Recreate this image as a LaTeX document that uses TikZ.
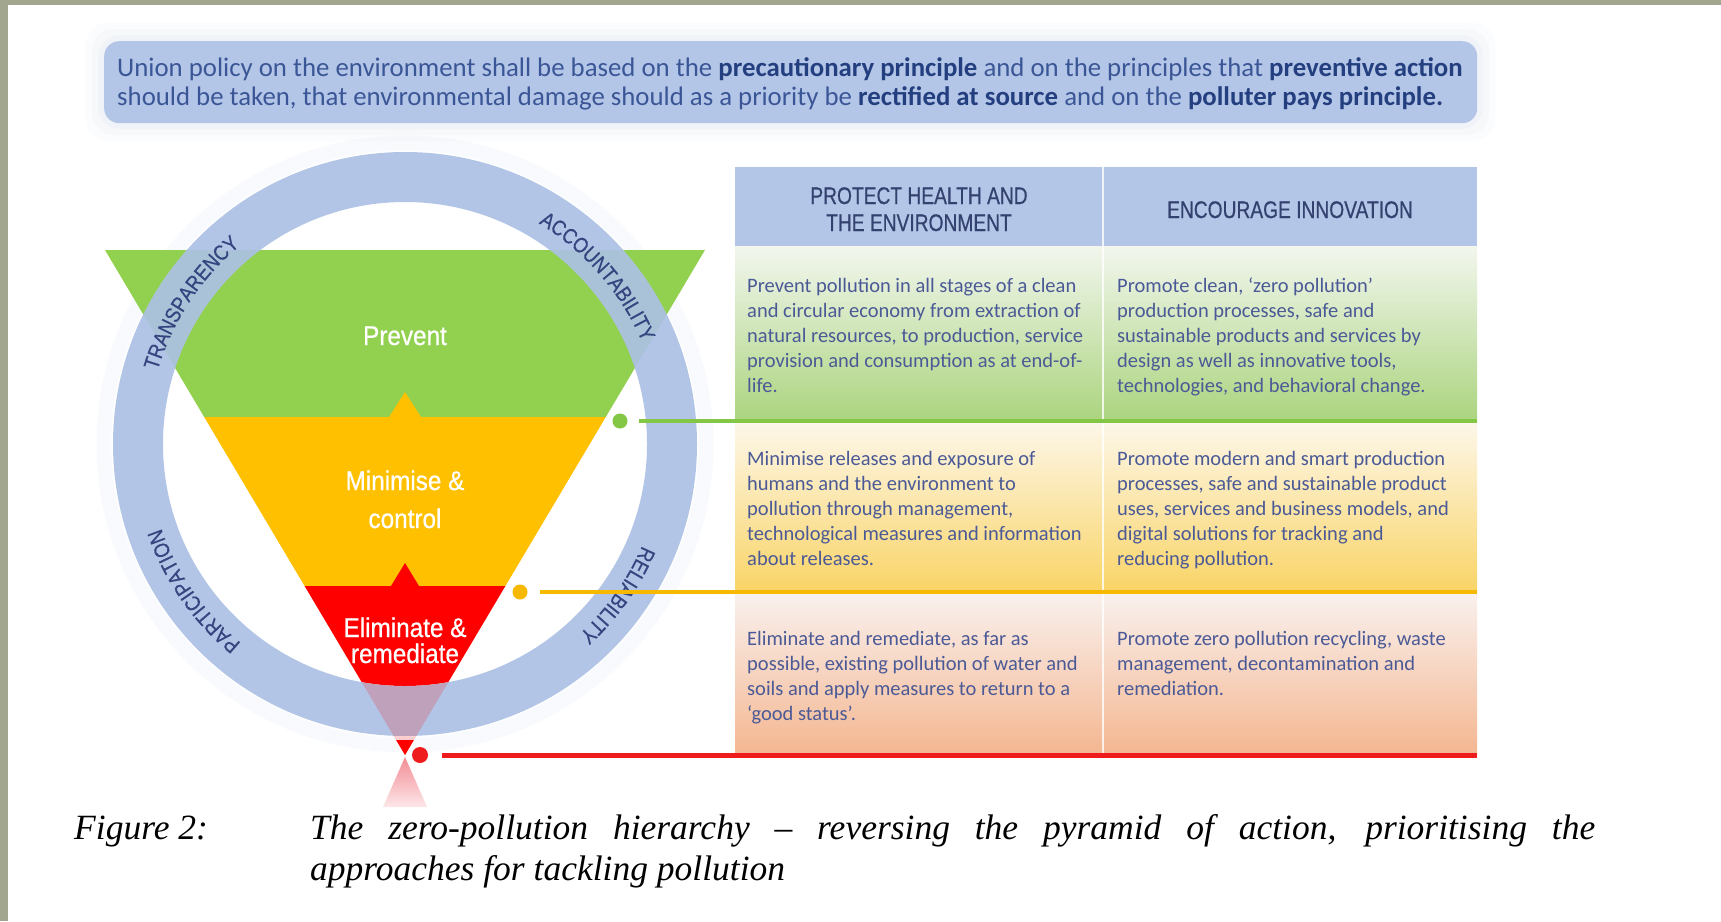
\documentclass[tikz,border=0pt]{standalone}
\usepackage{fontspec}
\setmainfont{Liberation Serif}
\newfontfamily\bodyfont{Carlito}
\newfontfamily\condfont[FakeStretch=0.8,FakeBold=0.5]{Liberation Sans}
\newfontfamily\trifont[FakeStretch=0.9,FakeBold=0.7]{Liberation Sans}
\newfontfamily\ringfont[FakeStretch=0.86,FakeBold=0.6]{Liberation Sans}
\usetikzlibrary{decorations.text}
\definecolor{stripcol}{HTML}{A3A68F}
\definecolor{bannerblue}{HTML}{B4C6E7}
\definecolor{glowcol}{HTML}{DCE2EE}
\definecolor{bannertext}{HTML}{3A5696}
\definecolor{bannerbold}{HTML}{243F80}
\definecolor{ringblue}{HTML}{ADC1E4}
\definecolor{ringtext}{HTML}{34457F}
\definecolor{tgreen}{HTML}{92D050}
\definecolor{tyellow}{HTML}{FFC000}
\definecolor{tred}{HTML}{FF0000}
\definecolor{hdrblue}{HTML}{B4C6E7}
\definecolor{hdrtext}{HTML}{33416F}
\definecolor{celltext}{HTML}{4B5A96}
\definecolor{lgreen}{HTML}{84C646}
\definecolor{lyellow}{HTML}{F7B900}
\definecolor{lred}{HTML}{EE1C1C}
\definecolor{rAtop}{HTML}{F2F6EE}
\definecolor{rAbot}{HTML}{ABD47E}
\definecolor{rBtop}{HTML}{FDF7EA}
\definecolor{rBbot}{HTML}{F9D466}
\definecolor{rCtop}{HTML}{F9F1EE}
\definecolor{rCbot}{HTML}{F4B690}
\definecolor{pinktop}{HTML}{F28C94}
\definecolor{pinkbot}{HTML}{FDE6E8}
\begin{document}
\begin{tikzpicture}[x=1pt,y=1pt,
  cell/.style={anchor=north west, inner sep=0pt, align=left, font=\bodyfont\fontsize{20.5}{25}\selectfont, text=celltext},
  hdr/.style={anchor=base, inner sep=0pt, font=\condfont\fontsize{24}{27}\selectfont, text=hdrtext},
  tri/.style={anchor=base, inner sep=0pt, font=\trifont\fontsize{27}{30}\selectfont, text=white},
  dot/.style={circle, inner sep=0pt, minimum size=15pt},
  rowbox/.style={anchor=north west, inner sep=0pt, minimum width=742pt},
  hdrbox/.style={anchor=north west, inner sep=0pt, fill=hdrblue, minimum height=79pt},
  capfont/.style={font=\itshape\fontsize{35.5}{41}\selectfont, text=black},
]
\useasboundingbox (0,0) rectangle (1721,-921);
\fill[white] (0,0) rectangle (1721,-921);
\fill[stripcol] (0,0) rectangle (8,-921);
\fill[stripcol] (0,0) rectangle (1721,-5);

% ---------- banner ----------
\foreach \d/\o in {18/0.10,12/0.14,6/0.20}
  \fill[glowcol, opacity=\o, rounded corners=22pt] (104-\d,-41+\d) rectangle (1477+\d,-123-\d);
\node[anchor=north west, inner sep=0pt, fill=bannerblue, rounded corners=15pt,
      minimum width=1373pt, minimum height=82pt] (banner) at (104,-41) {};
\node[anchor=north west, inner sep=0pt, align=left, font=\bodyfont\fontsize{26.8}{29.5}\selectfont, text=bannertext]
  (bannertxt) at (117,-56)
  {\rule{0pt}{20pt}Union policy on the environment shall be based on the \textbf{\color{bannerbold}precautionary principle} and on the principles that \textbf{\color{bannerbold}preventive action}\\
   should be taken, that environmental damage should as a priority be \textbf{\color{bannerbold}rectified at source} and on the \textbf{\color{bannerbold}polluter pays principle.}};

% ---------- geometry ----------
\coordinate (C) at (405,-444);
\coordinate (TL) at (105,-250);
\coordinate (TR) at (705,-250);
\coordinate (L1) at (204.2,-417);
\coordinate (R1) at (605.8,-417);
\coordinate (L2) at (304.6,-586);
\coordinate (R2) at (505.4,-586);
\coordinate (A) at (405,-755);

% ring halo
\foreach \i in {1,...,5}
  \draw[ringblue, opacity=0.07, line width=3pt] (C) circle[radius=292+3*\i];

% inverted pyramid
\fill[tgreen] (TL) -- (TR) -- (R1) -- (L1) -- cycle;
\fill[tyellow] (L1) -- (R1) -- (R2) -- (L2) -- cycle;
\begin{scope}
  \clip (C) circle[radius=242];
  \fill[tred] (L2) -- (R2) -- (A) -- cycle;
\end{scope}

% ring
\fill[ringblue, fill opacity=0.92, even odd rule] (C) circle[radius=292] (C) circle[radius=242];

% faded lower tip
\begin{scope}
  \clip (L2) -- (R2) -- (A) -- cycle;
  \fill[tred, fill opacity=0.18, even odd rule] (C) circle[radius=242] (290,-580) rectangle (520,-800);
\end{scope}
\fill[tred] (396.1,-740) -- (413.9,-740) -- (A) -- cycle;
\shade[top color=pinktop, bottom color=pinkbot] (405,-757) -- (427,-807) -- (383,-807) -- cycle;

% small arrows
\fill[tyellow] (389,-417) -- (421,-417) -- (405,-392) -- cycle;
\fill[tred] (391,-586) -- (419,-586) -- (405,-563) -- cycle;

% ring labels
\path[decorate, decoration={text along path, text align=center, text color=ringtext,
   text={|\ringfont\fontsize{21.5}{21.5}\selectfont|TRANSPARENCY}}]
   ([shift={(176.6:258)}]C) arc[start angle=176.6, end angle=116.6, radius=258];
\path[decorate, decoration={text along path, text align=center, text color=ringtext,
   text={|\ringfont\fontsize{21.5}{21.5}\selectfont|ACCOUNTABILITY}}]
   ([shift={(71:258)}]C) arc[start angle=71, end angle=11, radius=258];
\path[decorate, decoration={text along path, text align=center, text color=ringtext,
   text={|\ringfont\fontsize{21.5}{21.5}\selectfont|PARTICIPATION}}]
   ([shift={(244.8:258)}]C) arc[start angle=244.8, end angle=184.8, radius=258];
\path[decorate, decoration={text along path, text align=center, text color=ringtext,
   text={|\ringfont\fontsize{21.5}{21.5}\selectfont|RELIABILITY}}]
   ([shift={(-5.4:258)}]C) arc[start angle=-5.4, end angle=-65.4, radius=258];

% pyramid labels
\node[tri] (lprevent) at (405,-345) {Prevent};
\node[tri] (lmin1) at (405,-490) {Minimise \&};
\node[tri] (lmin2) at (405,-528) {control};
\node[tri] (lelim1) at (405,-637) {Eliminate \&};
\node[tri] (lelim2) at (405,-663) {remediate};

% ---------- table ----------
\node[hdrbox, minimum width=368pt] (hcell1) at (735,-167) {};
\node[hdrbox, minimum width=374pt] (hcell2) at (1103,-167) {};
\node[rowbox, minimum height=175pt, top color=rAtop, bottom color=rAbot] (rowA) at (735,-246) {};
\node[rowbox, minimum height=171pt, top color=rBtop, bottom color=rBbot] (rowB) at (735,-421) {};
\node[rowbox, minimum height=163pt, top color=rCtop, bottom color=rCbot] (rowC) at (735,-592) {};
\coordinate (divT) at (1103,-167);
\coordinate (divB) at (1103,-755);
\draw[white, line width=1.5pt, opacity=0.8] (divT) -- (divB);

\node[hdr] (hdrAa) at (919,-204) {PROTECT HEALTH AND};
\node[hdr] (hdrAb) at (919,-231) {THE ENVIRONMENT};
\node[hdr] (hdrB) at (1290,-218) {ENCOURAGE INNOVATION};

\node[cell] (cA1) at (747,-276) {\rule{0pt}{16pt}Prevent pollution in all stages of a clean\\and circular economy from extraction of\\natural resources, to production, service\\provision and consumption as at end-of-\\life.};
\node[cell] (cA2) at (1117,-276) {\rule{0pt}{16pt}Promote clean, ‘zero pollution’\\production processes, safe and\\sustainable products and services by\\design as well as innovative tools,\\technologies, and behavioral change.};
\node[cell] (cB1) at (747,-449) {\rule{0pt}{16pt}Minimise releases and exposure of\\humans and the environment to\\pollution through management,\\technological measures and information\\about releases.};
\node[cell] (cB2) at (1117,-449) {\rule{0pt}{16pt}Promote modern and smart production\\processes, safe and sustainable product\\uses, services and business models, and\\digital solutions for tracking and\\reducing pollution.};
\node[cell] (cC1) at (747,-629) {\rule{0pt}{16pt}Eliminate and remediate, as far as\\possible, existing pollution of water and\\soils and apply measures to return to a\\‘good status’.};
\node[cell] (cC2) at (1117,-629) {\rule{0pt}{16pt}Promote zero pollution recycling, waste\\management, decontamination and\\remediation.};

% ---------- dots and level lines ----------
\node[dot, fill=lgreen] (gdot) at (620,-421) {};
\node[dot, fill=lyellow] (ydot) at (520,-592) {};
\node[dot, fill=lred, minimum size=16pt] (rdot) at (420,-755) {};
\coordinate (gL) at (639,-421);  \coordinate (gR) at (1477,-421);
\coordinate (yL) at (540,-592);  \coordinate (yR) at (1477,-592);
\coordinate (rL) at (442,-755);  \coordinate (rR) at (1477,-755);
\draw[lgreen, line width=4pt] (gL) -- (gR);
\draw[lyellow, line width=4pt] (yL) -- (yR);
\draw[lred, line width=5pt] (rL) -- (rR);

% ---------- caption ----------
\node[capfont, anchor=base west, inner sep=0pt] (figlabel) at (74,-839) {Figure 2:};
\node[capfont, anchor=north west, inner sep=0pt, text width=1285pt, align=justify] (caption) at (310,-811)
  {\rule{0pt}{28pt}The zero-pollution hierarchy – reversing the pyramid of action, prioritising the\linebreak approaches for tackling pollution};
\end{tikzpicture}
\end{document}
